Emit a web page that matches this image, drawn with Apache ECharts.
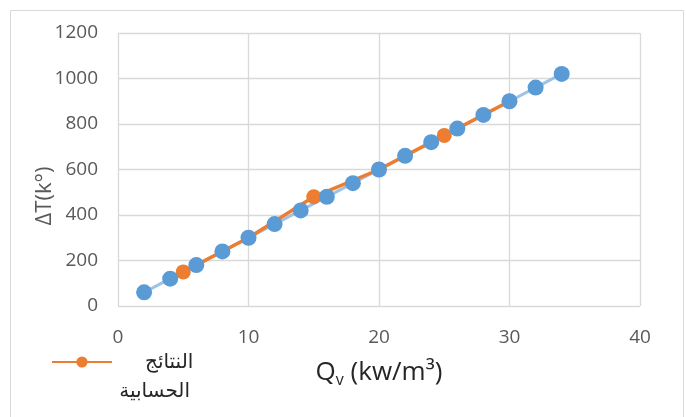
<!DOCTYPE html>
<html><head><meta charset="utf-8">
<script src="https://cdn.jsdelivr.net/npm/echarts@6/dist/echarts.min.js"></script>
<style>html,body{margin:0;padding:0;background:#fff}#c{width:686px;height:417px}</style>
</head><body><div id="c"></div>
<script>
var blueX = [2,4,6,8,10,12,14,16,18,20,22,24,26,28,30,32,34];
var blueY = [60,120,180,240,300,360,420,480,540,600,660,720,780,840,900,960,1020];
var orangeX = [5,10,15,20,25,30];
var orangeY = [150,300,480,600,750,900];
var orangeName = 'النتائج الحسابية';
var legendLines = ['النتائج', 'الحسابية'];
var yTitle = 'ΔT(k°)';
var xTicks = [0,10,20,30,40];
var yTicks = [0,200,400,600,800,1000,1200];

function pairs(xs, ys){ return xs.map(function(x,i){return [x, ys[i]];}); }
var font = "'Open Sans', 'DejaVu Sans', sans-serif";
var chart = echarts.init(document.getElementById('c'));
chart.setOption({
  animation:false,
  graphic:[
    {type:'rect', shape:{x:10.5,y:10.5,width:673,height:420}, style:{fill:'none', stroke:'#d9d9d9', lineWidth:1}, silent:true},
    {type:'text', x:190, y:391, style:{text:legendLines[1], fill:'#262626', fontSize:20, fontFamily:font, align:'right', verticalAlign:'middle'}, silent:true},
    {type:'text', x:45, y:196, rotation:Math.PI/2, style:{text:yTitle, fill:'#595959', fontSize:22, fontFamily:font, align:'center', verticalAlign:'middle'}, silent:true}
  ],
  grid:{left:118, right:46, top:33, bottom:111, containLabel:false},
  xAxis:{type:'value', min:xTicks[0], max:xTicks[xTicks.length-1], interval:10,
    axisLine:{show:false}, axisTick:{show:false},
    axisLabel:{color:'#595959', fontSize:19, fontFamily:font, margin:22},
    splitLine:{lineStyle:{color:'#d9d9d9', width:1.3}},
    name:'{a|Q}{s|v}{a| (kw/m³)}', nameLocation:'middle', nameGap:52,
    nameTextStyle:{rich:{a:{fontSize:26, color:'#262626', fontFamily:font}, s:{fontSize:16, color:'#262626', fontFamily:font, verticalAlign:'bottom', padding:[14,0,0,0]}}}
  },
  yAxis:{type:'value', min:yTicks[0], max:yTicks[yTicks.length-1], interval:200,
    axisLine:{show:false}, axisTick:{show:false},
    axisLabel:{color:'#595959', fontSize:19, fontFamily:font, margin:20, formatter:function(v){return String(v);}},
    splitLine:{lineStyle:{color:'#d9d9d9', width:1.3}}
  },
  legend:{show:true, data:[orangeName], left:46, top:347, orient:'vertical',
    itemWidth:60, itemHeight:14,
    formatter:function(){return legendLines[0];},
    textStyle:{fontSize:20, color:'#262626', fontFamily:font, padding:[0,0,0,28]}
  },
  series:[
    {type:'line', name:'blueLine', data:pairs(blueX, blueY), showSymbol:false, symbol:'none',
      lineStyle:{color:'#9dc3e6', width:3}, z:1, silent:true},
    {type:'line', name:orangeName, data:pairs(orangeX, orangeY), symbol:'circle', symbolSize:15,
      itemStyle:{color:'#ed7d31', opacity:1}, lineStyle:{color:'#ed7d31', width:3.5}, z:2},
    {type:'scatter', name:'blue', data:pairs(blueX, blueY), symbol:'circle', symbolSize:16,
      itemStyle:{color:'#5b9bd5', opacity:1}, z:3}
  ]
});
</script></body></html>
